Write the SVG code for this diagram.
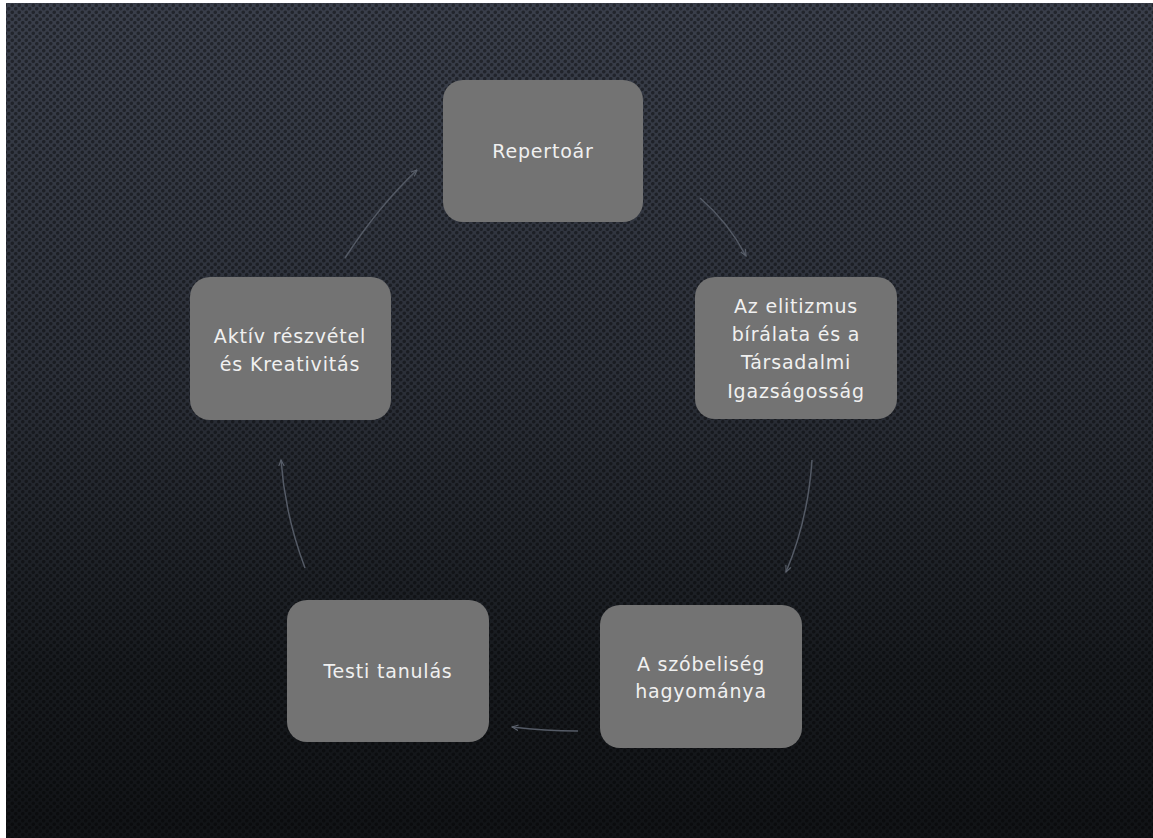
<svg xmlns="http://www.w3.org/2000/svg" width="1153" height="838" viewBox="0 0 1153 838">
<defs>
<linearGradient id="bg" x1="0" y1="0" x2="0" y2="1">
<stop offset="0" stop-color="#3a3f4b"/>
<stop offset="0.45" stop-color="#2b2f38"/>
<stop offset="0.8" stop-color="#171a1e"/>
<stop offset="1" stop-color="#111316"/>
</linearGradient>
<pattern id="dots" width="7" height="7" patternUnits="userSpaceOnUse">
<circle cx="1.75" cy="1.75" r="1.8" fill="#000" fill-opacity="0.4"/>
<circle cx="5.25" cy="5.25" r="1.8" fill="#000" fill-opacity="0.4"/>
</pattern>
<marker id="arr" viewBox="0 0 10 10" refX="9" refY="5" markerWidth="7" markerHeight="7" orient="auto" markerUnits="userSpaceOnUse">
<path d="M0,1 L9,5 L0,9" fill="none" stroke="#5c626d" stroke-width="1.5"/>
</marker>
</defs>
<style>
.node rect{fill:#737373;}
.node text{font-family:"DejaVu Sans","Liberation Sans",sans-serif;font-size:19px;letter-spacing:0.8px;fill:#f0f0f0;text-anchor:middle;}
.conn path{fill:none;stroke:#545a65;stroke-width:1.5;}
</style>
<rect width="1153" height="838" fill="url(#bg)"/>
<rect width="1153" height="838" fill="url(#dots)"/>
<rect x="0" y="0" width="6" height="838" fill="#fff"/>
<rect x="0" y="0" width="1153" height="3" fill="#fff"/>
<g id="connectors" class="conn">
<path d="M700 198 Q728 222 746 256" marker-end="url(#arr)"/>
<path d="M812 460 Q808 520 786 572" marker-end="url(#arr)"/>
<path d="M578 731 Q545 731 512 727" marker-end="url(#arr)"/>
<path d="M305 568 Q285 515 281 460" marker-end="url(#arr)"/>
<path d="M345 258 Q378 207 417 170" marker-end="url(#arr)"/>
</g>
<g id="n-repertoar" class="node">
<rect x="443" y="80" width="200" height="142" rx="20"/>
<text x="543" y="158">Repertoár</text>
</g>
<g id="n-elitizmus" class="node">
<rect x="695" y="277" width="202" height="142" rx="20"/>
<text x="796" y="313">Az elitizmus</text>
<text x="796" y="341">bírálata és a</text>
<text x="796" y="369">Társadalmi</text>
<text x="796" y="398">Igazságosság</text>
</g>
<g id="n-szobeliseg" class="node">
<rect x="600" y="605" width="202" height="143" rx="20"/>
<text x="701" y="671">A szóbeliség</text>
<text x="701" y="698">hagyománya</text>
</g>
<g id="n-testi" class="node">
<rect x="287" y="600" width="202" height="142" rx="20"/>
<text x="388" y="678">Testi tanulás</text>
</g>
<g id="n-aktiv" class="node">
<rect x="190" y="277" width="201" height="143" rx="20"/>
<text x="290" y="343">Aktív részvétel</text>
<text x="290" y="371">és Kreativitás</text>
</g>
</svg>
